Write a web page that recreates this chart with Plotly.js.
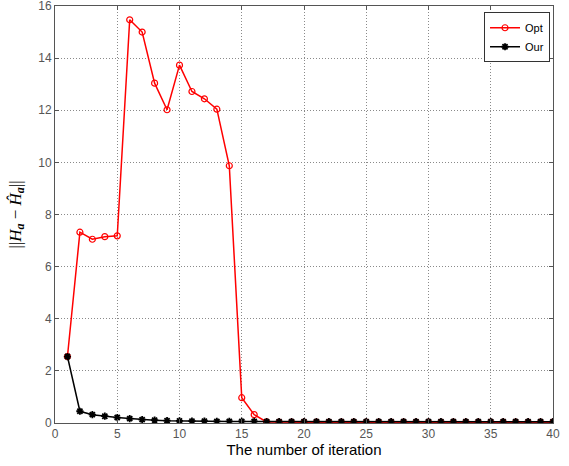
<!DOCTYPE html>
<html>
<head>
<meta charset="utf-8">
<script src="https://cdn.plot.ly/plotly-3.0.1.min.js"></script>
<style>html,body{margin:0;padding:0;background:#fff;}#chart{width:569px;height:466px;}</style>
</head>
<body>
<div id="chart"></div>
<script>
const iterations = [1,2,3,4,5,6,7,8,9,10,11,12,13,14,15,16,17,18,19,20,21,22,23,24,25,26,27,28,29,30,31,32,33,34,35,36,37,38,39,40];
const optValues = [2.55,7.32,7.05,7.15,7.18,15.47,15.0,13.04,12.02,13.73,12.72,12.44,12.04,9.87,0.97,0.32,0.04,0.03,0.03,0.03,0.03,0.03,0.03,0.03,0.03,0.03,0.03,0.03,0.03,0.03,0.03,0.03,0.03,0.03,0.03,0.03,0.03,0.03,0.03,0.03];
const ourValues = [2.55,0.45,0.32,0.26,0.21,0.17,0.13,0.11,0.09,0.08,0.07,0.07,0.06,0.06,0.06,0.06,0.05,0.05,0.05,0.05,0.05,0.05,0.05,0.05,0.05,0.05,0.05,0.05,0.05,0.05,0.05,0.05,0.05,0.05,0.05,0.05,0.05,0.05,0.05,0.05];
const seriesNames = ['Opt','Our'];
const xTicks = [0,5,10,15,20,25,30,35,40];
const yTicks = [0,2,4,6,8,10,12,14,16];
const xTitle = 'The number of iteration';
const yTitle = '||<i>H<sub><b>a</b></sub></i> − <i>Ĥ<sub><b>a</b></sub></i>||';

const traces = [
  {x: iterations, y: optValues, name: seriesNames[0], mode: 'lines+markers', type: 'scatter',
   line: {color: '#ff0000', width: 1.5},
   marker: {symbol: 'circle-open', size: 6, color: '#ff0000', line: {width: 1.2, color: '#ff0000'}}},
  {x: iterations, y: ourValues, name: seriesNames[1], mode: 'lines+markers', type: 'scatter',
   line: {color: '#000000', width: 1.5},
   marker: {symbol: 'asterisk-open', size: 6, color: '#000000', line: {width: 1.8, color: '#000000'}}}
];

const axisCommon = {
  showgrid: true, gridcolor: '#8a8a8a', griddash: '1px,2px', gridwidth: 1,
  zeroline: false, showline: true, linecolor: '#555', linewidth: 1,
  mirror: 'ticks', ticks: 'inside', ticklen: 4, tickcolor: '#555',
  tickmode: 'array', ticklabeloverflow: 'allow',
  tickfont: {family: 'Liberation Sans, Arial, sans-serif', size: 12, color: '#555'}
};

const layout = {
  width: 569, height: 466,
  margin: {l: 55, r: 16, t: 6, b: 43},
  paper_bgcolor: '#fff', plot_bgcolor: '#fff',
  showlegend: true,
  legend: {x: 0.994, y: 0.985, xanchor: 'right', yanchor: 'top',
    bgcolor: '#fff', bordercolor: '#333', borderwidth: 1,
    font: {family: 'Liberation Sans, Arial, sans-serif', size: 11, color: '#000'},
    tracegroupgap: 0, itemwidth: 30},
  xaxis: Object.assign({}, axisCommon, {range: [0, 40], tickvals: xTicks, ticktext: xTicks.map(String),
    title: {text: xTitle, standoff: 4, font: {family: 'Liberation Sans, Arial, sans-serif', size: 15, color: '#000'}}}),
  yaxis: Object.assign({}, axisCommon, {range: [0, 16], tickvals: yTicks, ticktext: yTicks.map(String),
    title: {text: yTitle, standoff: 12, font: {family: 'Liberation Serif, Times New Roman, serif', size: 17, color: '#000'}}})
};

Plotly.newPlot('chart', traces, layout, {displayModeBar: false, staticPlot: true});
</script>
</body>
</html>
